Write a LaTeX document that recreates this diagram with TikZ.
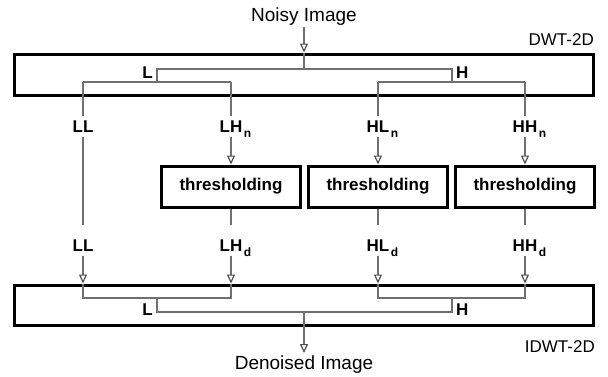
\documentclass[tikz,border=0pt]{standalone}
\usepackage{fontspec}
\setmainfont{Liberation Sans}
\usetikzlibrary{arrows.meta}
\definecolor{wiregray}{HTML}{707070}
\definecolor{tipgray}{HTML}{505050}
\newcommand{\mysub}[1]{\rlap{\hspace{1.5pt}\smash{\raisebox{-5pt}{\fontsize{12}{12}\selectfont\bfseries #1}}}}
\begin{document}
\begin{tikzpicture}[x=1pt,y=-1pt,
  wire/.style={draw=wiregray, line width=1.2pt},
  arr/.style={wire, -{Triangle[open, length=9pt, width=8pt, color=tipgray]}},
  bigbox/.style={draw=black, line width=3pt, minimum width=579pt, inner sep=0pt},
  thbox/.style={draw=black, line width=3pt, minimum width=139pt, minimum height=41pt, inner sep=0pt, font=\fontsize{17}{17}\selectfont\bfseries},
  lab/.style={inner sep=0pt, text height=12.5pt, text depth=0pt, minimum height=21pt, font=\fontsize{17}{17}\selectfont\bfseries},
  lh/.style={inner sep=0pt, font=\fontsize{17}{17}\selectfont\bfseries},
  title/.style={inner sep=2pt, font=\fontsize{19}{19}\selectfont},
  side/.style={inner sep=0pt, anchor=base east, font=\fontsize{17}{17}\selectfont}
]
\useasboundingbox (0,0) rectangle (608,376);
\fill[white] (0,0) rectangle (608,376);

% main boxes
\node[bigbox, minimum height=41pt] (dwt) at (304,74.5) {};
\node[bigbox, minimum height=40pt] (idwt) at (304,305) {};
\node[side] (dwtlab) at (594,45) {DWT-2D};
\node[side] (idwtlab) at (595,352) {IDWT-2D};

% input / output
\node[title, anchor=base] (noisy) at (304,21) {Noisy Image};
\node[title, anchor=base] (denoised) at (304,369) {Denoised Image};
\draw[arr] (noisy) -- (dwt.north);

% DWT internal tree
\coordinate (sp1) at (304,69);
\coordinate (dL) at (157,69);
\coordinate (dH) at (452,69);
\coordinate (dLb) at (157,82);
\coordinate (dHb) at (452,82);
\coordinate (a1) at (83,82);
\coordinate (a2) at (231,82);
\coordinate (a3) at (378,82);
\coordinate (a4) at (525,82);
\draw[wire] (dwt.north) -- (sp1);
\draw[wire] (dLb) -- (dL) -- (dH) -- (dHb);
\draw[wire] (a1) -- (a2);
\draw[wire] (a3) -- (a4);
\node[lh, anchor=base east] (Ld) at (153,78) {L};
\node[lh, anchor=base west] (Hd) at (456,78) {H};

% first label row
\node[lab] (ll1) at (83,126.5) {LL};
\node[lab] (lhn) at (231,126.5) {LH\mysub{n}};
\node[lab] (hln) at (378,126.5) {HL\mysub{n}};
\node[lab] (hhn) at (525,126.5) {HH\mysub{n}};
\draw[wire] (a1) -- (ll1);
\draw[wire] (a2) -- (lhn);
\draw[wire] (a3) -- (hln);
\draw[wire] (a4) -- (hhn);

% thresholding boxes
\node[thbox] (th1) at (231,186.5) {thresholding};
\node[thbox] (th2) at (378,186.5) {thresholding};
\node[thbox] (th3) at (525,186.5) {thresholding};
\draw[arr] (lhn) -- (th1);
\draw[arr] (hln) -- (th2);
\draw[arr] (hhn) -- (th3);

% second label row
\node[lab] (ll2) at (83,245) {LL};
\node[lab] (lhd) at (231,245) {LH\mysub{d}};
\node[lab] (hld) at (378,245) {HL\mysub{d}};
\node[lab] (hhd) at (525,245) {HH\mysub{d}};
\draw[wire, shorten >=9.5pt] (ll1) -- (ll2);
\draw[wire, shorten >=9.5pt] (th1) -- (lhd);
\draw[wire, shorten >=9.5pt] (th2) -- (hld);
\draw[wire, shorten >=9.5pt] (th3) -- (hhd);
\draw[arr] (ll2) -- (ll2 |- idwt.north);
\draw[arr] (lhd) -- (lhd |- idwt.north);
\draw[arr] (hld) -- (hld |- idwt.north);
\draw[arr] (hhd) -- (hhd |- idwt.north);

% IDWT internal tree
\coordinate (b1) at (83,298);
\coordinate (b2) at (231,298);
\coordinate (b3) at (378,298);
\coordinate (b4) at (525,298);
\coordinate (iL) at (157,298);
\coordinate (iH) at (452,298);
\coordinate (iLb) at (157,312);
\coordinate (iHb) at (452,312);
\coordinate (sp2) at (304,312);
\draw[wire] (ll2 |- idwt.north) -- (b1) -- (b2) -- (lhd |- idwt.north);
\draw[wire] (hld |- idwt.north) -- (b3) -- (b4) -- (hhd |- idwt.north);
\draw[wire] (iL) -- (iLb) -- (iHb) -- (iH);
\draw[arr] (sp2) -- (denoised);
\node[lh, anchor=base east] (Li) at (153,315) {L};
\node[lh, anchor=base west] (Hi) at (456,315) {H};
\end{tikzpicture}
\end{document}
